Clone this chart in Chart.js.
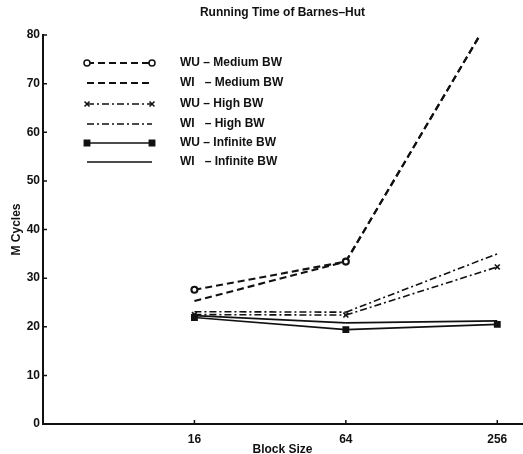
<!DOCTYPE html>
<html>
<head>
<meta charset="utf-8">
<script src="https://cdn.jsdelivr.net/npm/chart.js@4/dist/chart.umd.min.js"></script>
<style>
  html, body { margin: 0; padding: 0; background: #fff; }
  #wrap { width: 523px; height: 454px; }
</style>
</head>
<body>
<div id="wrap"><canvas id="chart" width="523" height="454"></canvas></div>
<script>
// block sizes on the x axis (log spaced)
const blockSizes = [16, 64, 256];
const yTicks = [0, 10, 20, 30, 40, 50, 60, 70, 80];

// M cycles
const wuMedium = [27.6, 33.4, 86];
const wiMedium = [25.3, 33.4, 86];
const wuHigh = [22.5, 22.4, 32.3];
const wiHigh = [23.1, 23.0, 35.0];
const wuInfinite = [21.9, 19.4, 20.5];
const wiInfinite = [22.3, 20.8, 21.2];

const ink = '#111';
const font = '"Liberation Sans", Arial, sans-serif';

function pts(values) {
    return values.map((v, i) => ({ x: blockSizes[i], y: v }));
}

// restart the dash pattern at every point so overlapping lines stay in phase
const segRestart = { borderDashOffset: c => c.p0DataIndex * 0.001 };

const datasets = [
    { label: 'WU – Medium BW', data: pts(wuMedium), borderDash: [7, 4], pointStyle: 'circle', pointRadius: 3, pointBackgroundColor: '#fff', borderWidth: 2.1 },
    { label: 'WI   – Medium BW', data: pts(wiMedium), borderDash: [7, 4], pointRadius: 0, borderWidth: 2.1 },
    { label: 'WU – High BW', data: pts(wuHigh), borderDash: [7, 3, 2, 3], pointStyle: 'crossRot', pointRadius: 3.5, borderWidth: 1.6 },
    { label: 'WI   – High BW', data: pts(wiHigh), borderDash: [7, 3, 2, 3], pointRadius: 0, borderWidth: 1.6 },
    { label: 'WU – Infinite BW', data: pts(wuInfinite), pointStyle: 'rect', pointRadius: 3.8, pointBorderWidth: 1.5, borderWidth: 1.7 },
    { label: 'WI   – Infinite BW', data: pts(wiInfinite), pointRadius: 0, borderWidth: 1.7 }
].map(d => Object.assign({ borderColor: ink, pointBorderColor: ink, backgroundColor: ink, tension: 0, fill: false, segment: segRestart }, d));

// ticks pointing inwards + a hand drawn legend like the original figure
const inwardTicks = {
    id: 'inwardTicks',
    afterDraw(chart) {
        const ctx = chart.ctx;
        const area = chart.chartArea;
        const xs = chart.scales.x, ys = chart.scales.y;
        ctx.save();
        ctx.strokeStyle = ink;
        ctx.lineWidth = 1.5;
        ctx.beginPath();
        yTicks.forEach(v => {
            const y = ys.getPixelForValue(v);
            ctx.moveTo(area.left, y);
            ctx.lineTo(area.left + 4, y);
        });
        blockSizes.forEach(v => {
            const x = xs.getPixelForValue(v);
            ctx.moveTo(x, area.bottom);
            ctx.lineTo(x, area.bottom - 4);
        });
        ctx.stroke();

        // legend
        const x0 = 87, x1 = 152, tx = 180;
        const rowY = [63, 83, 104, 124, 143, 162];
        ctx.font = 'bold 12px ' + font;
        ctx.textBaseline = 'middle';
        ctx.fillStyle = ink;
        datasets.forEach((d, i) => {
            const y = rowY[i];
            ctx.save();
            ctx.lineWidth = d.borderWidth;
            ctx.setLineDash(d.borderDash || []);
            ctx.beginPath();
            ctx.moveTo(x0, y);
            ctx.lineTo(x1, y);
            ctx.stroke();
            ctx.restore();
            if (d.pointRadius > 0) {
                [x0, x1].forEach(px => {
                    ctx.save();
                    ctx.fillStyle = d.pointBackgroundColor || ink;
                    ctx.lineWidth = d.pointBorderWidth || 1.5;
                    Chart.helpers.drawPoint(ctx, { pointStyle: d.pointStyle, radius: d.pointRadius, rotation: 0, borderWidth: ctx.lineWidth }, px, y);
                    ctx.restore();
                });
            }
            ctx.fillText(d.label, tx, y);
        });
        ctx.restore();
    }
};

new Chart(document.getElementById('chart').getContext('2d'), {
    type: 'line',
    data: { datasets: datasets },
    options: {
        responsive: false,
        animation: false,
        layout: { autoPadding: false, padding: { top: 0, right: 1, left: 0, bottom: 0 } },
        plugins: {
            legend: { display: false },
            tooltip: { enabled: false },
            title: {
                display: true,
                fullSize: false,
                text: 'Running Time of Barnes–Hut',
                color: ink,
                font: { family: font, size: 12, weight: 'bold' },
                padding: { top: 5, bottom: 15.6 }
            }
        },
        scales: {
            x: {
                type: 'logarithmic',
                min: 4,
                max: 321,
                afterBuildTicks: s => { s.ticks = blockSizes.map(v => ({ value: v })); },
                afterFit: s => { s.height = 30; },
                grid: { display: false, drawTicks: false },
                border: { color: ink, width: 2 },
                ticks: {
                    color: ink,
                    padding: 8,
                    maxRotation: 0,
                    autoSkip: false,
                    font: { family: font, size: 12, weight: 'bold' },
                    callback: v => String(v)
                },
                title: {
                    display: true,
                    text: 'Block Size',
                    color: ink,
                    padding: { top: 0, bottom: -3 },
                    font: { family: font, size: 12, weight: 'bold' }
                }
            },
            y: {
                min: 0,
                max: 80,
                afterBuildTicks: s => { s.ticks = yTicks.map(v => ({ value: v })); },
                afterFit: s => { s.width = 43; },
                grid: { display: false, drawTicks: false },
                border: { color: ink, width: 2 },
                ticks: {
                    color: ink,
                    padding: 3,
                    font: { family: font, size: 12, weight: 'bold' }
                },
                title: {
                    display: true,
                    text: 'M Cycles',
                    color: ink,
                    padding: { top: 9, bottom: 0 },
                    font: { family: font, size: 12, weight: 'bold' }
                }
            }
        }
    },
    plugins: [inwardTicks]
});
</script>
</body>
</html>
